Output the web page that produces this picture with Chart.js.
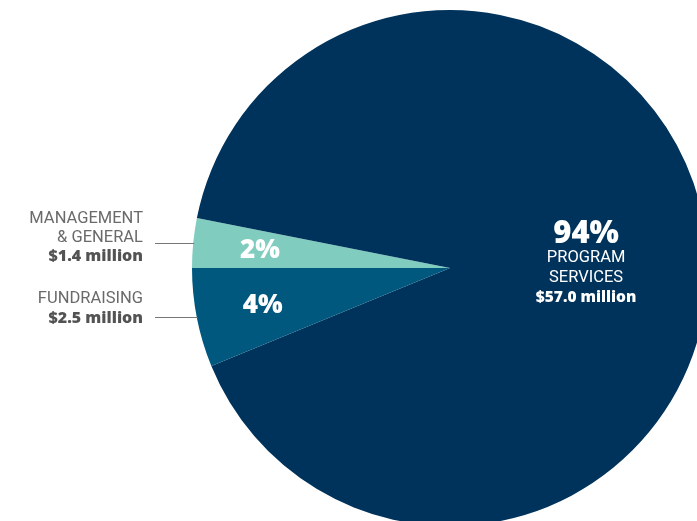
<!DOCTYPE html>
<html>
<head>
<meta charset="utf-8">
<script src="https://cdn.jsdelivr.net/npm/chart.js@4"></script>
<style>
  html, body { margin: 0; padding: 0; background: #fff; overflow: hidden; }
  #wrap { position: absolute; left: 0; top: 0; width: 697px; height: 521px; overflow: hidden; }
  canvas { position: absolute; left: 0; top: 0; }
</style>
</head>
<body>
<div id="wrap"><canvas id="pie" width="720" height="540"></canvas></div>
<script>
// Data
const categories = ['MANAGEMENT & GENERAL', 'PROGRAM SERVICES', 'FUNDRAISING'];
const amounts = ['$1.4 million', '$57.0 million', '$2.5 million'];
const percentLabels = ['2%', '94%', '4%'];
// slice sizes as they are drawn in the picture (share of the circle, %)
const sliceShares = [3.1, 90.7, 6.2];
const sliceColors = ['#80cdc0', '#00335b', '#00587f'];

// Text on the left of the pie
const sideLabels = [
    { lines: ['MANAGEMENT', '& GENERAL'], y: 218.5, lineY: 243 },
    null,
    { lines: ['FUNDRAISING'], y: 299, lineY: 317 }
];

const boldFont = '"Open Sans"';

const labelPlugin = {
    id: 'labelPlugin',
    afterDraw(chart) {
        const ctx = chart.ctx;
        const meta = chart.getDatasetMeta(0);
        ctx.save();
        meta.data.forEach((arc, i) => {
            const mid = (arc.startAngle + arc.endAngle) / 2;
            const r = arc.outerRadius;
            ctx.fillStyle = '#ffffff';
            ctx.textAlign = 'center';
            ctx.textBaseline = 'middle';
            if (i === 1) {
                const px = arc.x + Math.cos(mid) * r * 0.53;
                const py = arc.y + Math.sin(mid) * r * 0.53;
                ctx.font = '800 31px ' + boldFont;
                ctx.fillText(percentLabels[i], px, py - 21);
                ctx.font = '16.5px Roboto';
                const words = categories[i].split(' ');
                ctx.fillText(words[0], px, py + 3);
                ctx.fillText(words[1], px, py + 23);
                ctx.font = '800 15.5px ' + boldFont;
                ctx.fillText(amounts[i], px, py + 43);
            } else {
                const px = arc.x + Math.cos(mid) * r * 0.74;
                const py = arc.y + Math.sin(mid) * r * 0.74;
                ctx.font = '800 26px ' + boldFont;
                ctx.fillText(percentLabels[i], px, py + 1);
            }

            const side = sideLabels[i];
            if (side) {
                ctx.textAlign = 'right';
                ctx.fillStyle = '#6a6a6a';
                ctx.font = '16.5px Roboto';
                side.lines.forEach((t, k) => ctx.fillText(t, 143, side.y + k * 19));
                ctx.fillStyle = '#535353';
                ctx.font = '800 16px ' + boldFont;
                ctx.fillText(amounts[i], 143, side.y + side.lines.length * 19);
                const dy = side.lineY - arc.y;
                const edgeX = arc.x - Math.sqrt(r * r - dy * dy);
                ctx.strokeStyle = '#777777';
                ctx.lineWidth = 1;
                ctx.beginPath();
                ctx.moveTo(155, side.lineY + 0.5);
                ctx.lineTo(edgeX + 1, side.lineY + 0.5);
                ctx.stroke();
            }
        });
        ctx.restore();
    }
};

new Chart(document.getElementById('pie'), {
    type: 'pie',
    data: {
        labels: categories,
        datasets: [{
            data: sliceShares,
            backgroundColor: sliceColors,
            borderWidth: 0
        }]
    },
    options: {
        responsive: false,
        animation: false,
        rotation: -90,
        layout: { padding: { left: 192, top: 10, right: 12, bottom: 14 } },
        plugins: {
            legend: { display: false },
            tooltip: { enabled: false }
        }
    },
    plugins: [labelPlugin]
});
</script>
</body>
</html>
